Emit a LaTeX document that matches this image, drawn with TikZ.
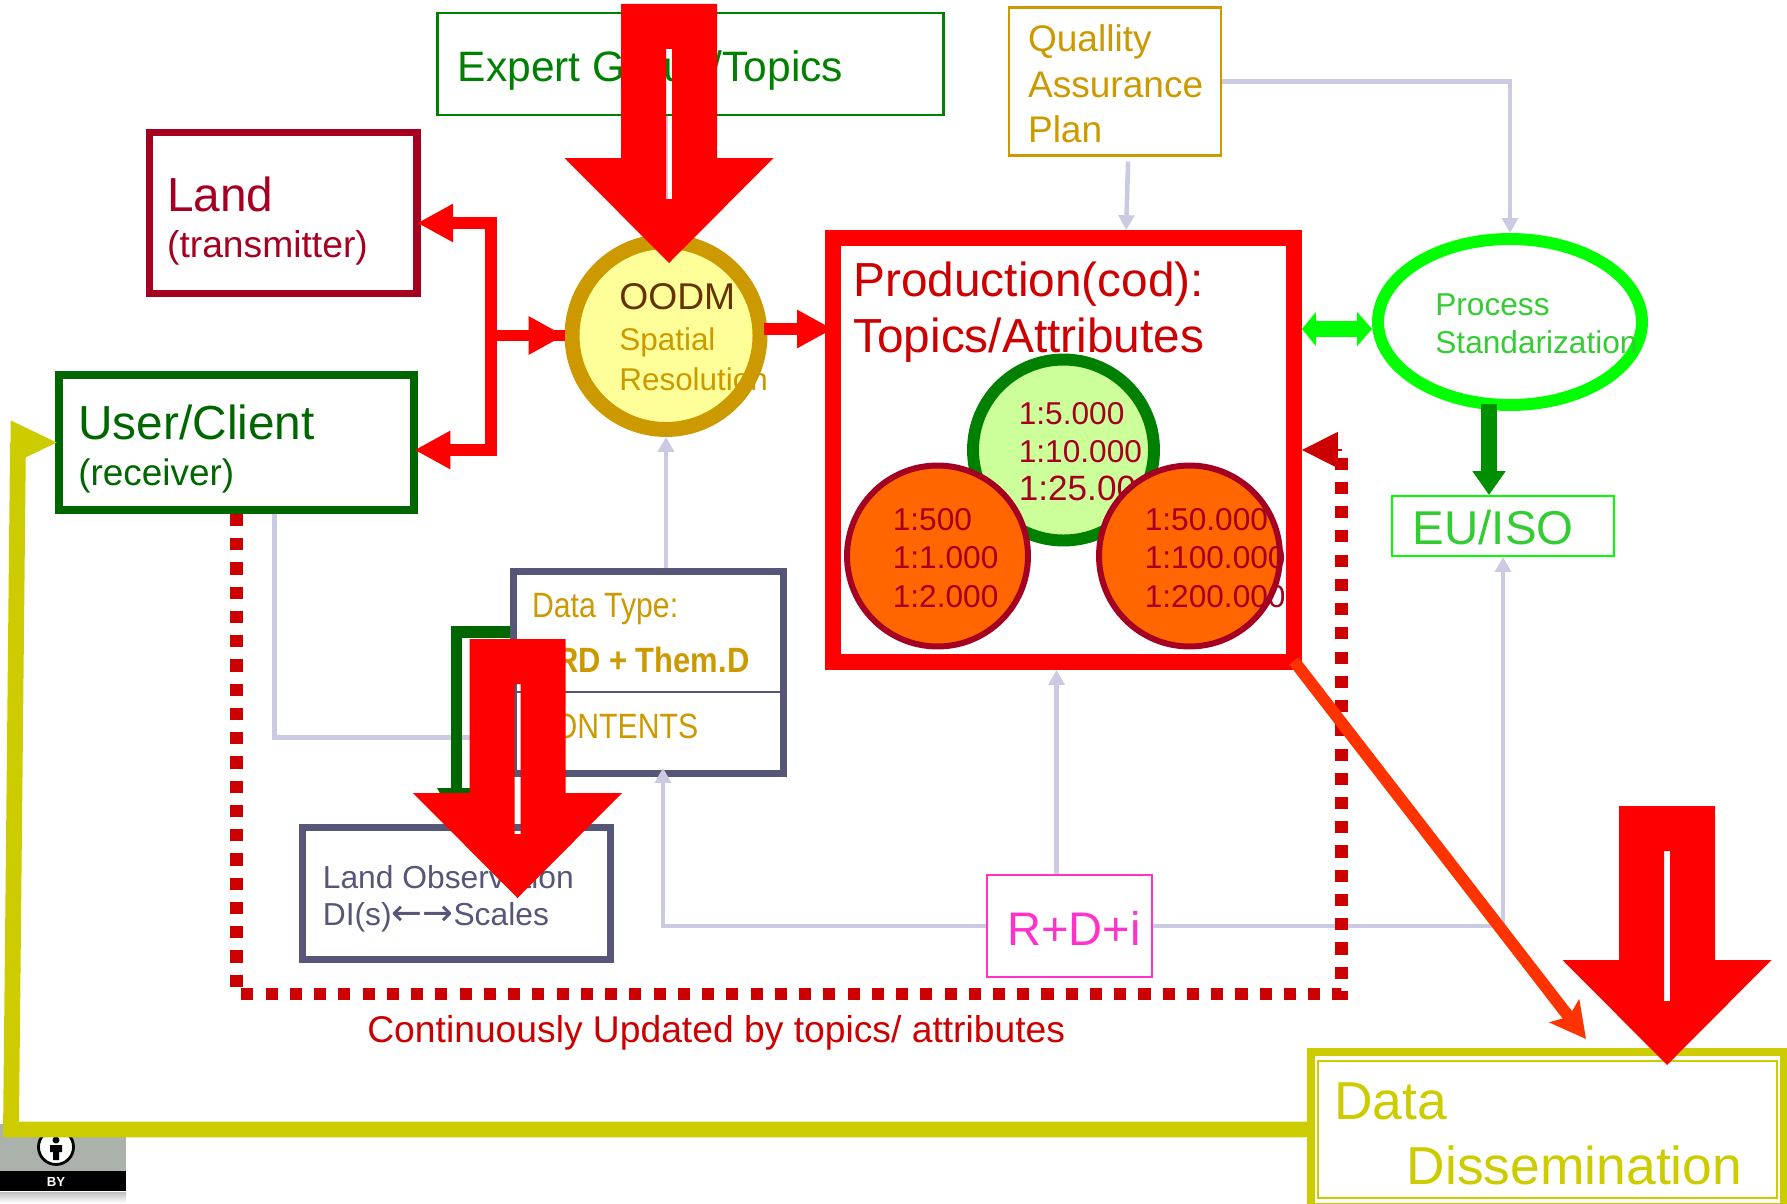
\documentclass[tikz,border=0pt]{standalone}
\usepackage{fontspec}
\setmainfont{Liberation Sans}
\newfontfamily\narrowfont[FakeStretch=0.86]{Liberation Sans}
\newfontfamily\narrowbold[FakeStretch=0.88]{Liberation Sans Bold}
\newfontfamily\arrowfont{DejaVu Sans}
\usetikzlibrary{shapes,shapes.geometric,arrows.meta,positioning}
\newcommand{\fsz}[2]{\fontsize{#1pt}{#2pt}\selectfont}
\definecolor{landred}{HTML}{A50021}
\definecolor{usergreen}{HTML}{006600}
\definecolor{expertgreen}{HTML}{008000}
\definecolor{gold}{HTML}{CC9900}
\definecolor{slate}{HTML}{565678}
\definecolor{lavender}{HTML}{CACAE2}
\definecolor{darkred}{HTML}{CC0000}
\definecolor{arrowred}{HTML}{FF3300}
\definecolor{oodmbrown}{HTML}{663300}
\definecolor{oodmfill}{HTML}{FFFF99}
\definecolor{scalegreen}{HTML}{CCFF99}
\definecolor{scaleorange}{HTML}{FF6600}
\definecolor{dissyellow}{HTML}{CCCC00}
\definecolor{stdgreen}{HTML}{33CC33}
\definecolor{isogreen}{HTML}{008F00}
\definecolor{rdpink}{HTML}{FF33CC}
\definecolor{badgegrey}{HTML}{AAB2AB}
\tikzset{
  box/.style={rectangle,inner sep=0pt},
  lbl/.style={inner sep=0pt,align=left},
  orangescale/.style={circle,inner sep=0pt,draw=landred,fill=scaleorange,line width=3.4pt,minimum size=3.62cm},
  lav/.style={draw=lavender,line width=2.6pt,-{Triangle[length=8.5pt,width=9pt]}},
  redline/.style={draw=red,line width=6.8pt},
  redtip/.style={redline,-{Triangle[length=20.4pt,width=20.4pt]}},
  dots/.style={draw=darkred,line width=7.2pt,dash pattern=on 6.9pt off 6.9pt}
}
% block arrow with its slot, placed by its tip
\newcommand{\bigdown}[1]{
\fill[red,even odd rule,shift={(#1)}] (0,0)--(-104.5,-105)--(-48,-105)--(-48,-259)--(48,-259)--(48,-105)--(104.5,-105)--cycle
  (-3,-214) rectangle (3,-64);
}

\begin{document}
\begin{tikzpicture}[x=0.02cm,y=-0.02cm]
\useasboundingbox (0,0) rectangle (1787,1203);

% badge
\node (Badge) at (60.5,1147.5) [box,fill=badgegrey,minimum width=2.62cm,minimum height=0.94cm] {};
\node (BadgeBand) at (60.5,1181) [box,fill=black,minimum width=2.62cm,minimum height=0.4cm] {};
\node (BadgeBy) at (56,1182) [inner sep=0pt,text=white,font=\fsz{7.5}{9}\bfseries] {BY};
\node (BadgeRing) at (56,1147) [circle,inner sep=0pt,draw=black,fill=white,line width=1.6pt,minimum size=0.7cm] {};
\fill[black] (56,1140) circle (3.5);
\fill[black] (50,1145) rectangle (62,1152) (53,1152) rectangle (59,1160);
\shade[top color=black!25,bottom color=white] (0,1192) rectangle (126,1203);

% boxes
\node (Expert) at (690.5,64) [box,draw=expertgreen,line width=1.4pt,minimum width=10.13cm,minimum height=2.03cm,
  label={[lbl,text=expertgreen,font=\fsz{24.2}{28},xshift=-9.75cm,yshift=-0.13cm]right:{Expert Group/Topics}}] {};
\node (Quality) at (1114.6,81.5) [box,draw=gold,line width=1.2pt,minimum width=4.24cm,minimum height=2.96cm,
  label={[lbl,text=gold,font=\fsz{21.1}{25.8},xshift=-3.88cm,yshift=-0.05cm]right:{Quallity\\Assurance\\Plan}}] {};
\node (Land) at (283.3,213) [box,draw=landred,line width=4.2pt,minimum width=5.35cm,minimum height=3.22cm,
  label={[lbl,text=landred,font=\fsz{27.2}{25.9},xshift=-5.08cm,yshift=-0.16cm]right:{Land\\{\fsz{21.2}{25.9}(transmitter)}}}] {};
\node (User) at (236.5,442.5) [box,draw=usergreen,line width=4.5pt,minimum width=7.1cm,minimum height=2.7cm,
  label={[lbl,text=usergreen,font=\fsz{27.2}{26.2},xshift=-6.8cm,yshift=-0.13cm]right:{User/Client\\{\fsz{21}{26.2}(receiver)}}}] {};
\node (OODM) at (666,335.5) [circle,inner sep=0pt,draw=gold,fill=oodmfill,line width=8.5pt,minimum size=3.76cm,
  label={[lbl,text=gold,font=\fsz{17.9}{23},xshift=-2.97cm,yshift=-0.04cm]right:{{\fsz{21.2}{23}\color{oodmbrown}OODM}\\Spatial\\Resolution}}] {};
\node (Prod) at (1063.5,450) [box,draw=red,line width=9.07pt,minimum width=9.22cm,minimum height=8.48cm,
  label={[lbl,text=darkred,font=\fsz{27.2}{32},xshift=-8.98cm,yshift=2.75cm]right:{Production(cod):\\Topics/Attributes}}] {};
\node (Scale2) at (1063.5,450) [circle,inner sep=0pt,draw=expertgreen,fill=scalegreen,line width=6.8pt,minimum size=3.62cm,
  label={[lbl,text=landred,font=\fsz{18}{21.8},xshift=-2.83cm,yshift=-0.03cm]right:{1:5.000\\1:10.000\\{\fsz{20}{25}1:25.000}}}] {};
\node (Scale1) at (937.5,556) [orangescale,
  label={[lbl,text=landred,font=\fsz{18}{21.8},xshift=-2.77cm,yshift=-0.04cm]right:{1:500\\1:1.000\\1:2.000}}] {};
\node (Scale3) at (1189.5,556) [orangescale,
  label={[lbl,text=landred,font=\fsz{18}{21.8},xshift=-2.77cm,yshift=-0.04cm]right:{1:50.000\\1:100.000\\1:200.000}}] {};
\node (Process) at (1510,322) [ellipse,inner sep=0pt,draw=green,line width=6.8pt,minimum width=5.28cm,minimum height=3.32cm,
  label={[lbl,text=stdgreen,font=\fsz{18}{21.5},xshift=-4.26cm,yshift=-0.04cm]right:{Process\\Standarization}}] {};
\node (EU) at (1503,526) [box,draw=green,line width=1.1pt,minimum width=4.44cm,minimum height=1.2cm,
  label={[lbl,text=stdgreen,font=\fsz{27}{30},xshift=-4.05cm,yshift=-0.04cm]right:{EU/ISO}}] {};
\node (Data) at (648.5,672.5) [box,draw=slate,line width=3.6pt,minimum width=5.4cm,minimum height=4.04cm,
  label={[lbl,text=gold,font=\fsz{20}{24}\narrowfont,xshift=-5.1cm,yshift=1.26cm]right:{Data Type:}},
  label={[lbl,text=gold,font=\fsz{20}{24}\narrowbold,xshift=-5.1cm,yshift=0.26cm]right:{GRD + Them.D}},
  label={[lbl,text=gold,font=\fsz{20}{24}\narrowfont,xshift=-5.1cm,yshift=-1.07cm]right:{CONTENTS}}] {};
\draw[slate,line width=1.6pt] ([yshift=-0.39cm]Data.west)--([yshift=-0.39cm]Data.east);
\node (LandObs) at (456.5,893.5) [box,draw=slate,line width=4.2pt,minimum width=6.15cm,minimum height=2.63cm,
  label={[lbl,text=slate,font=\fsz{18.1}{21.3},xshift=-5.83cm,yshift=-0.11cm]right:{Land Observation\\DI(s){\arrowfont\fsz{21}{21.3}←→}Scales}}] {};
\node (RDi) at (1069.5,926) [box,draw=rdpink,line width=1.1pt,minimum width=3.3cm,minimum height=2.04cm,
  label={[inner sep=0pt,text=rdpink,font=\fsz{26.8}{30},xshift=0.09cm,yshift=-0.04cm]center:{R+D+i}}] {};
\node (Diss) at (1547.5,1129.5) [box,draw=dissyellow,line width=4.5pt,minimum width=9.46cm,minimum height=3.1cm,
  label={[lbl,text=dissyellow,font=\fsz{30.4}{34},xshift=-9.08cm,yshift=0.57cm]right:{Data}},
  label={[lbl,text=dissyellow,font=\fsz{30.4}{34},xshift=-7.63cm,yshift=-0.71cm]right:{Dissemination}}] {};
\node (DissIn) at (1547.3,1129.5) [box,draw=dissyellow,line width=1.1pt,minimum width=9.19cm,minimum height=2.74cm] {};
\node (Updated) at (367,1033) [lbl,anchor=west,text=darkred,font=\fsz{21.2}{25}] {Continuously Updated by topics/ attributes};

\coordinate (Fork) at (491,335.5);
\coordinate (LandStub) at (491,223);
\coordinate (UserStub) at (491,450);
\coordinate (DotCorner) at (1341.5,994);
\coordinate (Bend) at (18,442.5);
\coordinate (Foot) at (11,1129.5);
\coordinate (OrangeEnd) at (1586,1039);
\coordinate (TipA) at (669,263);
\coordinate (TipB) at (517.5,898);
\coordinate (TipC) at (1667,1065);

% thin links
\draw[lav] (OODM.north |- Expert.south)--(OODM.north);
\draw[lav] (OODM.south |- Data.north)--(OODM.south);
\draw[lav] ([xshift=0.27cm,yshift=-0.1cm]Quality.south)--([xshift=0.23cm]Quality.south |- Prod.north);
\draw[lav] (Quality.east) -| (Process.north);
\draw[lav] ([xshift=0.76cm]User.south) |- ([yshift=-1.3cm]Data.west);
\draw[lav,shorten >=-5pt] (RDi.west) -| ([xshift=0.29cm]Data.south);
\draw[lav] ([xshift=-0.26cm]RDi.north)--([xshift=-0.26cm]RDi.north |- Prod.south);
\draw[lav] (RDi.east) -| (EU.south);

% red links
\draw[redtip,shorten >=-2pt] (Fork) |- (LandStub -| Land.east);
\draw[redtip,shorten >=-2pt] (Fork) |- (UserStub -| User.east);
\draw[redline] (Fork)--(OODM.west);
\draw[redtip] (Fork)--(OODM.west);
\draw[redtip,shorten >=-4.5pt,shorten <=-2pt] ([yshift=0.13cm]OODM.east)--([yshift=0.13cm]OODM.east -| Prod.west);

% the others
\draw[draw=green,line width=9.4pt,{Triangle[length=8pt,width=19pt]}-{Triangle[length=8.5pt,width=19pt]}] ([yshift=-0.14cm]Process.west -| Prod.east)--([yshift=-0.14cm]Process.west);
\draw[draw=isogreen,line width=9pt,-{Triangle[length=13.6pt,width=18pt]},shorten <=-4pt] ([xshift=-0.28cm]EU.north |- Process.south)--([xshift=-0.28cm]EU.north);
\draw[dots] (User.south) |- (DotCorner)--(DotCorner |- Prod.east);
\draw[draw=darkred,line width=1pt,-{Triangle[length=20.4pt,width=20.4pt]}] (DotCorner |- Prod.east)--(Prod.east);
\draw[draw=usergreen,line width=6.8pt,-{Triangle[length=20.4pt,width=20.4pt]}] ([yshift=0.81cm]Data.west) -| (LandObs.north);
\draw[draw=arrowred,line width=6.8pt,-{Stealth[length=20pt,width=21pt,inset=4pt]}] ([shift={(-0.16cm,0.18cm)}]Prod.south east)--(OrangeEnd);
\draw[draw=dissyellow,line width=9pt,-{Triangle[length=27pt,width=23pt]},shorten >=-1.7pt] (Diss.west)--(Foot)--(Bend)--(User.west);

% big arrows
\bigdown{TipA}
\bigdown{TipB}
\bigdown{TipC}

\end{tikzpicture}
\end{document}
